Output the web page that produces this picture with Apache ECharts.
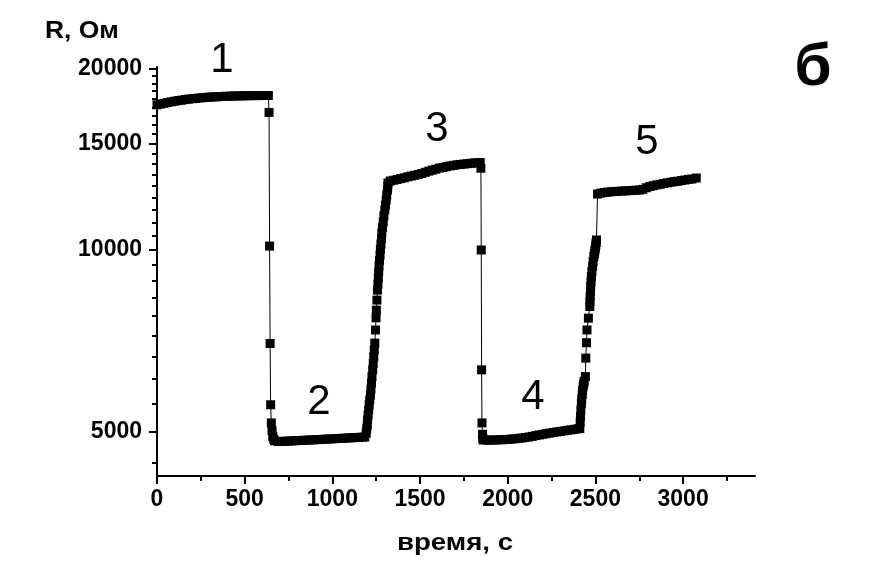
<!DOCTYPE html>
<html>
<head>
<meta charset="utf-8">
<script src="https://cdn.jsdelivr.net/npm/echarts@6/dist/echarts.min.js"></script>
<style>
  html, body { margin: 0; padding: 0; background: #fff; }
  #chart { width: 875px; height: 571px; }
</style>
</head>
<body>
<div id="chart"></div>
<script>
// время, с / R, Ом — точки по участкам кривой
const plateau1 = [
  [0, 17400], [20, 17450], [40, 17500], [60, 17550], [80, 17600], [100, 17640],
  [120, 17680], [140, 17710], [160, 17750], [180, 17780], [200, 17810], [220, 17830],
  [240, 17860], [260, 17880], [280, 17900], [300, 17920], [320, 17930], [340, 17940],
  [360, 17955], [380, 17965], [400, 17975], [420, 17985], [440, 17995], [460, 18000],
  [480, 18005], [500, 18010], [520, 18015], [540, 18020], [560, 18020], [580, 18025],
  [600, 18025], [620, 18030], [635, 18030]
]
const drop1 = [
  [639, 16900], [642, 10150], [645, 7000], [648, 5540], [652, 5170], [656, 5020],
  [660, 4910], [665, 4860], [670, 4830]
]
const plateau2 = [
  [690, 4815], [710, 4818], [730, 4821], [750, 4824], [770, 4827], [790, 4830],
  [810, 4834], [830, 4837], [850, 4840], [870, 4843], [890, 4846], [910, 4850],
  [930, 4853], [950, 4857], [970, 4860], [990, 4864], [1010, 4867], [1030, 4871],
  [1050, 4874], [1070, 4878], [1090, 4881], [1110, 4885], [1130, 4889], [1150, 4892],
  [1170, 4896], [1185, 4900]
]
const rise1 = [
  [1193, 4970], [1196, 5050], [1199, 5130], [1201, 5230], [1204, 5330], [1207, 5430],
  [1210, 5540], [1213, 5640], [1217, 5750], [1220, 5880], [1223, 6020], [1226, 6170],
  [1230, 6330], [1233, 6490], [1236, 6650], [1239, 6830], [1242, 7010], [1246, 7370],
  [1249, 7720], [1251, 7950], [1254, 8260], [1257, 8580], [1260, 8780], [1262, 8990],
  [1264, 9200], [1266, 9410], [1269, 9610], [1272, 9810], [1274, 10020], [1277, 10230],
  [1280, 10450], [1282, 10670], [1286, 10900], [1290, 11130], [1294, 11390], [1299, 11650],
  [1303, 11870], [1307, 12100], [1310, 12330], [1314, 12570], [1316, 12740], [1317, 12910]
]
const plateau3 = [
  [1330, 13010], [1350, 13050], [1370, 13090], [1390, 13130], [1410, 13170], [1430, 13220],
  [1450, 13260], [1470, 13300], [1490, 13340], [1510, 13390], [1530, 13450], [1550, 13510],
  [1570, 13560], [1590, 13610], [1610, 13670], [1630, 13700], [1650, 13740], [1670, 13780],
  [1690, 13810], [1710, 13840], [1730, 13860], [1750, 13880], [1770, 13900], [1790, 13920],
  [1810, 13940], [1830, 13950], [1843, 13960]
]
const drop2 = [
  [1847, 13660], [1849, 10000], [1851, 6330], [1853, 5170], [1856, 4950], [1858, 4870]
]
const plateau4 = [
  [1860, 4845], [1880, 4842], [1900, 4842], [1920, 4843], [1940, 4845], [1960, 4848],
  [1980, 4851], [2000, 4855], [2020, 4860], [2040, 4866], [2060, 4873], [2080, 4880],
  [2100, 4890], [2120, 4900], [2140, 4912], [2160, 4925], [2180, 4938], [2200, 4950],
  [2220, 4962], [2240, 4973], [2260, 4984], [2280, 4995], [2300, 5005], [2320, 5015],
  [2340, 5025], [2360, 5035], [2380, 5045], [2400, 5055], [2411, 5060]
]
const rise2 = [
  [2413, 5180], [2415, 5300], [2417, 5430], [2420, 5570], [2422, 5660], [2425, 5760],
  [2427, 5850], [2430, 5940], [2433, 6000], [2436, 6060], [2443, 6170], [2445, 6620],
  [2449, 7020], [2452, 7370], [2460, 7710], [2468, 8060], [2469, 8210], [2470, 8370],
  [2472, 8530], [2473, 8700], [2475, 8860], [2477, 9030], [2480, 9210], [2484, 9390],
  [2487, 9570], [2491, 9750], [2494, 9860], [2497, 9970], [2500, 10080], [2502, 10190],
  [2504, 10290], [2506, 10390]
]
const plateau5 = [
  [2512, 12380], [2530, 12420], [2550, 12450], [2570, 12470], [2590, 12490], [2610, 12500],
  [2630, 12510], [2650, 12520], [2670, 12530], [2690, 12540], [2710, 12550], [2730, 12560],
  [2750, 12570], [2770, 12600], [2790, 12680], [2810, 12740], [2830, 12780], [2850, 12820],
  [2870, 12850], [2890, 12890], [2910, 12920], [2930, 12950], [2950, 12980], [2970, 13000],
  [2990, 13030], [3010, 13060], [3030, 13090], [3050, 13110], [3075, 13160]
]

// подписи осей
const xMajorTicks = [0, 500, 1000, 1500, 2000, 2500, 3000]
const xMinorTicks = [250, 750, 1250, 1750, 2250, 2750, 3250]
const yMajorTicks = [5000, 10000, 15000, 20000]

// промежуточные деления оси R (8 между основными)
const yMinorTicks = []
for (let k = -1; k <= 27; k++) {
  const v = 5000 + k * 5000 / 9
  if (k % 9 !== 0) yMinorTicks.push(Math.round(v))
}

const allPoints = [].concat(plateau1, drop1, plateau2, rise1, plateau3, drop2, plateau4, rise2, plateau5)

const FONT = "'Liberation Sans', Arial, sans-serif"
const X_MIN = 0, X_MAX = 3410
const Y_MIN = 4222, Y_MAX = 20100

const chart = echarts.init(document.getElementById('chart'), null, { renderer: 'canvas' })

const axisLineStyle = { show: true, lineStyle: { color: '#000', width: 2 } }
const tickLabelStyle = { color: '#000', fontFamily: FONT, fontWeight: 'bold', fontSize: 23 }

const option = {
  animation: false,
  backgroundColor: '#fff',
  grid: { left: 157, right: 120, top: 67, bottom: 95, outerBoundsMode: 'none' },
  xAxis: [
    {
      type: 'value', min: X_MIN, max: X_MAX,
      axisLine: axisLineStyle,
      splitLine: { show: false },
      axisTick: { show: true, inside: false, length: 8, customValues: xMajorTicks, lineStyle: { color: '#000', width: 2 } },
      axisLabel: Object.assign({ customValues: xMajorTicks, margin: 12, formatter: v => String(v) }, tickLabelStyle)
    },
    {
      type: 'value', min: X_MIN, max: X_MAX, position: 'bottom',
      axisLine: { show: false },
      splitLine: { show: false },
      axisTick: { show: true, inside: false, length: 5, customValues: xMinorTicks, lineStyle: { color: '#000', width: 2 } },
      axisLabel: { show: false }
    }
  ],
  yAxis: [
    {
      type: 'log', logBase: 10, min: Y_MIN, max: Y_MAX,
      axisLine: axisLineStyle,
      splitLine: { show: false },
      axisTick: { show: true, inside: false, length: 8, customValues: yMajorTicks, lineStyle: { color: '#000', width: 2 } },
      axisLabel: Object.assign({ customValues: yMajorTicks, margin: 15, formatter: v => String(Math.round(v)) }, tickLabelStyle)
    },
    {
      type: 'log', logBase: 10, min: Y_MIN, max: Y_MAX, position: 'left',
      axisLine: { show: false },
      splitLine: { show: false },
      axisTick: { show: true, inside: false, length: 5, customValues: yMinorTicks, lineStyle: { color: '#000', width: 2 } },
      axisLabel: { show: false }
    }
  ],
  series: [
    {
      type: 'line',
      xAxisIndex: 0,
      yAxisIndex: 0,
      data: allPoints,
      symbol: 'rect',
      symbolSize: 9,
      showAllSymbol: true,
      itemStyle: { color: '#000' },
      lineStyle: { color: '#000', width: 1 }
    }
  ],
  graphic: [
    { type: 'text', x: 45, y: 32, scaleX: 1.15, style: { text: 'R, Ом', font: `bold 23px ${FONT}`, fill: '#000', verticalAlign: 'middle' } },
    { type: 'text', x: 455, y: 544, scaleX: 1.2, style: { text: 'время, с', font: `bold 23px ${FONT}`, fill: '#000', align: 'center', verticalAlign: 'middle' } },
    { type: 'text', x: 222, y: 60, style: { text: '1', font: `42px ${FONT}`, fill: '#000', align: 'center', verticalAlign: 'middle' } },
    { type: 'text', x: 319, y: 402, style: { text: '2', font: `42px ${FONT}`, fill: '#000', align: 'center', verticalAlign: 'middle' } },
    { type: 'text', x: 437, y: 129, style: { text: '3', font: `42px ${FONT}`, fill: '#000', align: 'center', verticalAlign: 'middle' } },
    { type: 'text', x: 533, y: 397, style: { text: '4', font: `42px ${FONT}`, fill: '#000', align: 'center', verticalAlign: 'middle' } },
    { type: 'text', x: 647, y: 142, style: { text: '5', font: `42px ${FONT}`, fill: '#000', align: 'center', verticalAlign: 'middle' } },
    { type: 'text', x: 813, y: 68, style: { text: 'б', font: `bold 60px ${FONT}`, fill: '#000', align: 'center', verticalAlign: 'middle' } }
  ]
}

chart.setOption(option)
</script>
</body>
</html>
